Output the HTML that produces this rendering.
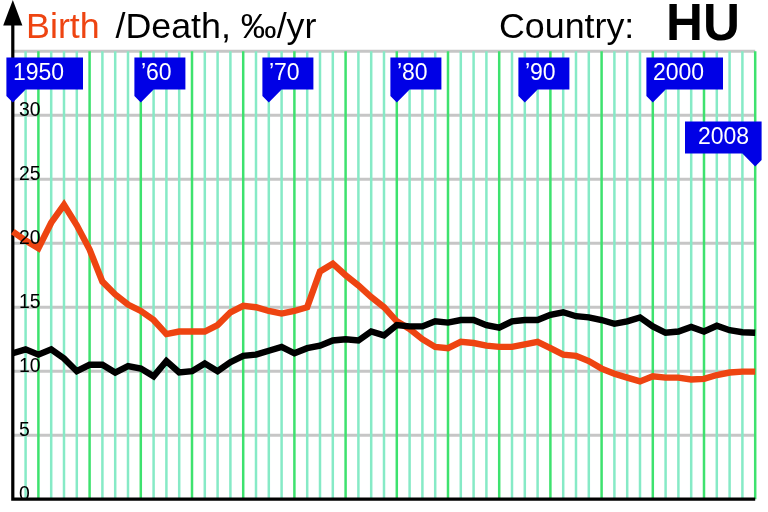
<!DOCTYPE html>
<html><head><meta charset="utf-8"><title>Birth/Death HU</title>
<style>
html,body{margin:0;padding:0;background:#fff;}
body{width:768px;height:512px;overflow:hidden;}
svg{display:block;font-family:"Liberation Sans",sans-serif;}
</style></head><body>
<svg width="768" height="512" viewBox="0 0 768 512">
<rect width="768" height="512" fill="#fff"/>

<g stroke="#c6c6c6" stroke-width="3" fill="none">
<path d="M12.8 435.2H755.2"/>
<path d="M12.8 371.2H755.2"/>
<path d="M12.8 307.2H755.2"/>
<path d="M12.8 243.2H755.2"/>
<path d="M12.8 179.2H755.2"/>
<path d="M12.8 115.2H755.2"/>
<path d="M12.8 51.2H755.2"/>
</g>
<g stroke="#86eac6" stroke-width="2.5" fill="none">
<path d="M25.6 51.2V499.2"/>
<path d="M51.2 51.2V499.2"/>
<path d="M64.0 51.2V499.2"/>
<path d="M76.8 51.2V499.2"/>
<path d="M102.4 51.2V499.2"/>
<path d="M115.2 51.2V499.2"/>
<path d="M128.0 51.2V499.2"/>
<path d="M153.6 51.2V499.2"/>
<path d="M166.4 51.2V499.2"/>
<path d="M179.2 51.2V499.2"/>
<path d="M204.8 51.2V499.2"/>
<path d="M217.6 51.2V499.2"/>
<path d="M230.4 51.2V499.2"/>
<path d="M256.0 51.2V499.2"/>
<path d="M268.8 51.2V499.2"/>
<path d="M281.6 51.2V499.2"/>
<path d="M307.2 51.2V499.2"/>
<path d="M320.0 51.2V499.2"/>
<path d="M332.8 51.2V499.2"/>
<path d="M358.4 51.2V499.2"/>
<path d="M371.2 51.2V499.2"/>
<path d="M384.0 51.2V499.2"/>
<path d="M409.6 51.2V499.2"/>
<path d="M422.4 51.2V499.2"/>
<path d="M435.2 51.2V499.2"/>
<path d="M460.8 51.2V499.2"/>
<path d="M473.6 51.2V499.2"/>
<path d="M486.4 51.2V499.2"/>
<path d="M512.0 51.2V499.2"/>
<path d="M524.8 51.2V499.2"/>
<path d="M537.6 51.2V499.2"/>
<path d="M563.2 51.2V499.2"/>
<path d="M576.0 51.2V499.2"/>
<path d="M588.8 51.2V499.2"/>
<path d="M614.4 51.2V499.2"/>
<path d="M627.2 51.2V499.2"/>
<path d="M640.0 51.2V499.2"/>
<path d="M665.6 51.2V499.2"/>
<path d="M678.4 51.2V499.2"/>
<path d="M691.2 51.2V499.2"/>
<path d="M716.8 51.2V499.2"/>
<path d="M729.6 51.2V499.2"/>
<path d="M742.4 51.2V499.2"/>
</g>
<g stroke="#3ee26e" stroke-width="2.5" fill="none">
<path d="M38.4 51.2V499.2"/>
<path d="M89.6 51.2V499.2"/>
<path d="M140.8 51.2V499.2"/>
<path d="M192.0 51.2V499.2"/>
<path d="M243.2 51.2V499.2"/>
<path d="M294.4 51.2V499.2"/>
<path d="M345.6 51.2V499.2"/>
<path d="M396.8 51.2V499.2"/>
<path d="M448.0 51.2V499.2"/>
<path d="M499.2 51.2V499.2"/>
<path d="M550.4 51.2V499.2"/>
<path d="M601.6 51.2V499.2"/>
<path d="M652.8 51.2V499.2"/>
<path d="M704.0 51.2V499.2"/>
<path d="M755.2 51.2V499.2"/>
</g>
<path d="M12.8 20V499.2H755.2" fill="none" stroke="#000" stroke-width="3.2"/>
<path d="M12.8 0L22.4 25.6H3.2Z" fill="#000"/>
<polyline points="12.8,231.7 25.6,240.6 38.4,248.3 51.2,222.7 64.0,204.8 76.8,225.3 89.6,249.6 102.4,281.6 115.2,294.4 128.0,304.6 140.8,311.0 153.6,320.0 166.4,334.1 179.2,331.5 192.0,331.5 204.8,331.5 217.6,325.1 230.4,312.3 243.2,305.9 256.0,307.2 268.8,311.0 281.6,313.6 294.4,311.0 307.2,307.2 320.0,271.4 332.8,263.7 345.6,275.2 358.4,285.4 371.2,297.0 384.0,307.2 396.8,321.3 409.6,329.0 422.4,339.2 435.2,346.9 448.0,348.2 460.8,341.8 473.6,343.0 486.4,345.6 499.2,346.9 512.0,346.9 524.8,344.3 537.6,341.8 550.4,348.2 563.2,354.6 576.0,355.8 588.8,361.0 601.6,368.6 614.4,373.8 627.2,377.6 640.0,381.4 652.8,376.3 665.6,377.6 678.4,377.6 691.2,379.5 704.0,378.9 716.8,375.0 729.6,372.5 742.4,371.6 755.2,371.6" fill="none" stroke="#ee4411" stroke-width="6.4" stroke-linejoin="miter"/>
<polyline points="12.8,353.3 25.6,349.4 38.4,354.6 51.2,349.4 64.0,358.4 76.8,371.2 89.6,364.8 102.4,364.8 115.2,372.5 128.0,366.1 140.8,368.6 153.6,376.3 166.4,361.0 179.2,372.5 192.0,371.2 204.8,363.5 217.6,371.2 230.4,362.2 243.2,355.8 256.0,354.6 268.8,350.7 281.6,346.9 294.4,353.3 307.2,348.2 320.0,345.6 332.8,340.5 345.6,339.2 358.4,340.5 371.2,331.5 384.0,335.4 396.8,325.1 409.6,326.4 422.4,326.4 435.2,321.3 448.0,322.6 460.8,320.0 473.6,320.0 486.4,325.1 499.2,327.7 512.0,321.3 524.8,320.0 537.6,320.0 550.4,314.9 563.2,312.3 576.0,316.2 588.8,317.4 601.6,320.0 614.4,323.8 627.2,321.3 640.0,317.4 652.8,326.4 665.6,332.8 678.4,331.5 691.2,327.0 704.0,331.5 716.8,325.8 729.6,330.2 742.4,332.2 755.2,332.8" fill="none" stroke="#000" stroke-width="6.4" stroke-linejoin="miter"/>
<g font-size="19.4" fill="#000">
<text x="19" y="499.5">0</text>
<text x="19" y="435.5">5</text>
<text x="19" y="371.5">10</text>
<text x="19" y="307.5">15</text>
<text x="19" y="243.5">20</text>
<text x="19" y="179.5">25</text>
<text x="19" y="115.5">30</text>
</g>
<path d="M6.4 57.6H83.0V89.6H25.6L12.8 102.4L6.4 96.0Z" fill="#0000e6"/><text x="12.9" y="80.0" font-size="23" fill="#fff">1950</text>
<path d="M134.4 57.6H185.4V89.6H153.6L140.8 102.4L134.4 96.0Z" fill="#0000e6"/><text x="140.9" y="80.0" font-size="23" fill="#fff">’60</text>
<path d="M262.4 57.6H313.4V89.6H281.6L268.8 102.4L262.4 96.0Z" fill="#0000e6"/><text x="268.9" y="80.0" font-size="23" fill="#fff">’70</text>
<path d="M390.4 57.6H441.4V89.6H409.6L396.8 102.4L390.4 96.0Z" fill="#0000e6"/><text x="396.9" y="80.0" font-size="23" fill="#fff">’80</text>
<path d="M518.4 57.6H569.4V89.6H537.6L524.8 102.4L518.4 96.0Z" fill="#0000e6"/><text x="524.9" y="80.0" font-size="23" fill="#fff">’90</text>
<path d="M646.4 57.6H723.0V89.6H665.6L652.8 102.4L646.4 96.0Z" fill="#0000e6"/><text x="652.9" y="80.0" font-size="23" fill="#fff">2000</text>
<path d="M761.6 121.6H685.0V153.6H742.4L755.2 166.4L761.6 160.0Z" fill="#0000e6"/><text x="698.0" y="144.0" font-size="23" fill="#fff">2008</text>
<text x="26.1" y="38" font-size="35.8" fill="#ee4411">Birth</text>
<text x="115.5" y="38" font-size="35.8" fill="#000">/Death, ‰/yr</text>
<text x="499" y="38" font-size="35.8" fill="#000">Country:</text>
<text x="666" y="40" font-size="51.2" font-weight="bold" fill="#000">HU</text>
</svg></body></html>
